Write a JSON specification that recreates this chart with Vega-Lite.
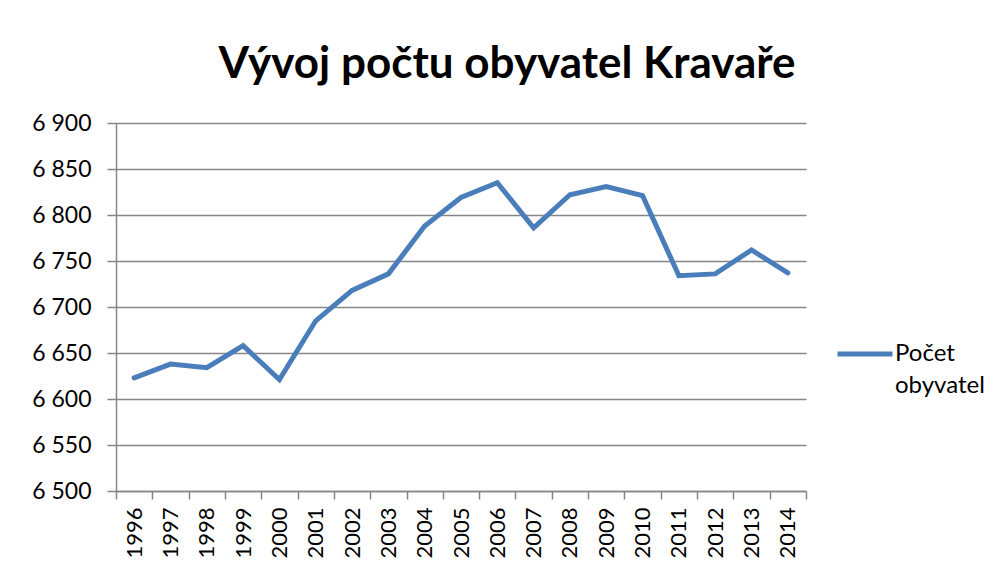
{
  "$schema": "https://vega.github.io/schema/vega-lite/v6.json",
  "width": 690,
  "height": 368,
  "autosize": "none",
  "padding": {"left": 116, "top": 123, "right": 188, "bottom": 89},
  "background": "white",
  "title": {
    "text": "Vývoj počtu obyvatel Kravaře",
    "font": "Lato",
    "fontSize": 44,
    "fontWeight": "bold",
    "color": "black",
    "anchor": "middle",
    "dx": 46,
    "offset": 25
  },
  "data": {
    "values": [
      {"year": "1996", "value": 6623, "series": "Počet obyvatel"},
      {"year": "1997", "value": 6638, "series": "Počet obyvatel"},
      {"year": "1998", "value": 6634, "series": "Počet obyvatel"},
      {"year": "1999", "value": 6658, "series": "Počet obyvatel"},
      {"year": "2000", "value": 6621, "series": "Počet obyvatel"},
      {"year": "2001", "value": 6685, "series": "Počet obyvatel"},
      {"year": "2002", "value": 6718, "series": "Počet obyvatel"},
      {"year": "2003", "value": 6736, "series": "Počet obyvatel"},
      {"year": "2004", "value": 6788, "series": "Počet obyvatel"},
      {"year": "2005", "value": 6819, "series": "Počet obyvatel"},
      {"year": "2006", "value": 6835, "series": "Počet obyvatel"},
      {"year": "2007", "value": 6786, "series": "Počet obyvatel"},
      {"year": "2008", "value": 6822, "series": "Počet obyvatel"},
      {"year": "2009", "value": 6831, "series": "Počet obyvatel"},
      {"year": "2010", "value": 6821, "series": "Počet obyvatel"},
      {"year": "2011", "value": 6734, "series": "Počet obyvatel"},
      {"year": "2012", "value": 6736, "series": "Počet obyvatel"},
      {"year": "2013", "value": 6762, "series": "Počet obyvatel"},
      {"year": "2014", "value": 6737, "series": "Počet obyvatel"}
    ]
  },
  "mark": {"type": "line", "strokeWidth": 5, "strokeCap": "round"},
  "encoding": {
    "x": {
      "field": "year",
      "type": "ordinal",
      "bandPosition": 0.5,
      "scale": {"type": "band", "paddingInner": 0, "paddingOuter": 0},
      "axis": {
        "title": null,
        "labelAngle": -90,
        "labelAlign": "right",
        "labelBaseline": "middle",
        "labelFont": "Lato",
        "labelFontSize": 22,
        "labelColor": "black",
        "labelPadding": 8,
        "tickBand": "extent",
        "tickSize": 8,
        "tickColor": "#868686",
        "tickWidth": 1.5,
        "domainColor": "#868686",
        "domainWidth": 1.5,
        "grid": false
      }
    },
    "y": {
      "field": "value",
      "type": "quantitative",
      "scale": {"domain": [6500, 6900], "zero": false, "nice": false},
      "axis": {
        "title": null,
        "values": [6500, 6550, 6600, 6650, 6700, 6750, 6800, 6850, 6900],
        "labelExpr": "replace(format(datum.value, ',d'), ',', ' ')",
        "labelFont": "Lato",
        "labelFontSize": 23,
        "labelColor": "black",
        "labelPadding": 16,
        "tickSize": 9,
        "tickColor": "#868686",
        "tickWidth": 1.5,
        "domainColor": "#868686",
        "domainWidth": 1.5,
        "grid": true,
        "gridColor": "#868686",
        "gridWidth": 1.5
      }
    },
    "color": {
      "field": "series",
      "type": "nominal",
      "scale": {"range": ["#4a7ebb"]},
      "legend": {
        "title": null,
        "orient": "none",
        "legendX": 719,
        "legendY": 201,
        "symbolType": "stroke",
        "symbolSize": 3025,
        "symbolStrokeWidth": 5,
        "labelFont": "Lato",
        "labelFontSize": 24,
        "labelColor": "black",
        "labelOffset": 0,
        "labelExpr": "split(datum.label, ' ')"
      }
    }
  },
  "config": {
    "view": {"stroke": null},
    "style": {"guide-label": {"lineHeight": 32}}
  }
}
